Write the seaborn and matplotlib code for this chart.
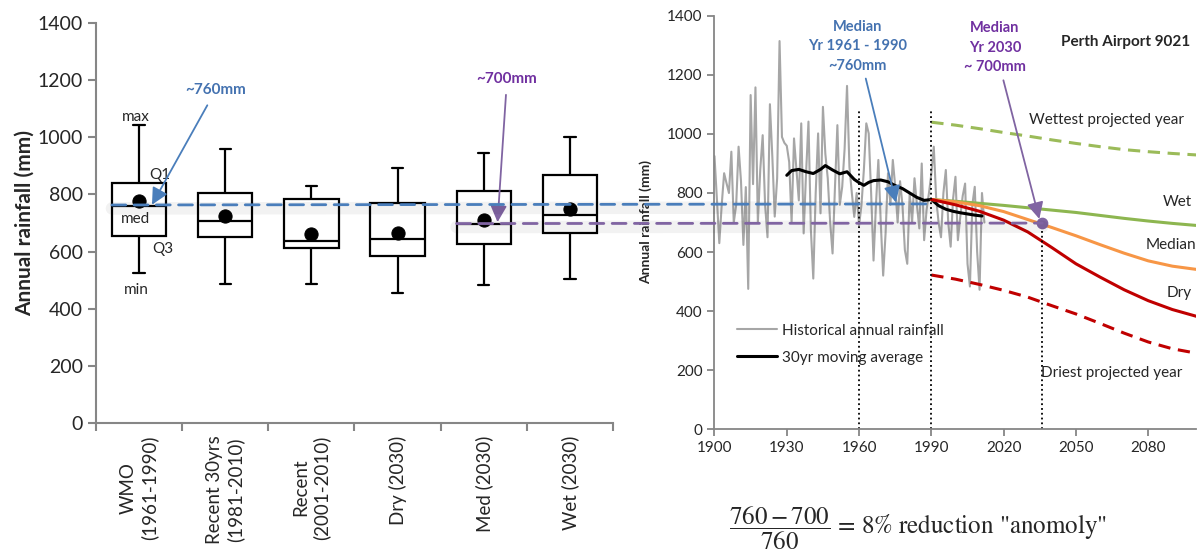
import numpy as np
import pandas as pd
import matplotlib.pyplot as plt
import seaborn as sns
from matplotlib.patches import ConnectionPatch

# ---- left panel: box plot summaries (mm) ----
periods = ["WMO\n(1961-1990)", "Recent 30yrs\n(1981-2010)", "Recent\n(2001-2010)",
           "Dry (2030)", "Med (2030)", "Wet (2030)"]
box_min = [525, 485, 485, 456, 482, 505]
box_low = [655, 650, 611, 583, 625, 664]
box_med = [760, 707, 638, 643, 697, 728]
box_high = [840, 806, 783, 769, 813, 868]
box_max = [1043, 959, 829, 891, 946, 1002]
box_mean = [778, 725, 660, 664, 711, 749]

# ---- right panel: Perth Airport 9021 ----
hist_years = list(range(1900, 2013))
hist_rain = [925, 780, 630, 760, 867, 833, 800, 940, 700, 760,
             957, 840, 624, 820, 475, 1132, 830, 1158, 700, 880,
             996, 760, 650, 1101, 924, 720, 850, 1315, 990, 970,
             960, 905, 700, 985, 880, 775, 1036, 663, 867, 1042,
             675, 510, 800, 1002, 731, 1092, 933, 850, 700, 595,
             820, 1030, 760, 821, 950, 1163, 888, 800, 719, 800,
             690, 760, 880, 1036, 1002, 800, 571, 760, 912, 700,
             520, 663, 867, 760, 912, 822, 700, 840, 760, 607,
             560, 800, 700, 850, 760, 680, 900, 640, 742, 800,
             866, 957, 780, 700, 650, 800, 878, 700, 618, 780,
             855, 640, 720, 790, 832, 560, 483, 760, 821, 600,
             472, 800, 700]

mov_years = [1930, 1932, 1935, 1938, 1941, 1944, 1946, 1949, 1952, 1955,
             1958, 1960, 1962, 1964, 1966, 1969, 1972, 1975, 1978, 1981,
             1984, 1987, 1990, 1993, 1996, 1999, 2002, 2005, 2008, 2011]
mov_avg = [860, 876, 880, 872, 866, 880, 893, 878, 865, 872,
           846, 835, 826, 836, 842, 844, 838, 825, 815, 800,
           785, 775, 778, 757, 745, 738, 733, 729, 725, 722]

proj_years = [1990, 2000, 2010, 2020, 2030, 2040, 2050, 2060, 2070, 2080, 2090, 2100]
wettest = [1040, 1030, 1018, 1005, 993, 980, 968, 957, 947, 940, 934, 929]
wet = [778, 772, 765, 758, 750, 742, 734, 724, 714, 705, 697, 690]
median = [778, 770, 757, 737, 710, 683, 655, 625, 596, 570, 552, 541]
dry = [778, 760, 738, 708, 668, 615, 560, 515, 472, 435, 405, 382]
driest = [522, 508, 490, 470, 447, 418, 390, 358, 325, 295, 272, 257]

med_base = 763
med_2030 = 698
year_2030 = 2036

BLUE = "#4A7EBB"
BLUE_TXT = "#4472B0"
PURPLE = "#8064A2"
PURPLE_TXT = "#7030A0"
AXGREY = "#868686"

sns.set_theme(style="ticks")
plt.rcParams["font.family"] = ["Lato", "DejaVu Sans"]
plt.rcParams["mathtext.fontset"] = "stix"

fig = plt.figure(figsize=(11.98, 5.53), dpi=100)
ax1 = fig.add_axes([0.0801, 0.2351, 0.4316, 0.7233])
ax2 = fig.add_axes([0.5964, 0.2242, 0.4023, 0.7469])

# box plot from five-number summaries
long = pd.DataFrame({
    "period": np.repeat(periods, 5),
    "rain": np.column_stack([box_min, box_low, box_med, box_high, box_max]).ravel(),
})
box_kw = dict(data=long, x="period", y="rain", order=periods, whis=(0, 100),
              width=0.63, color="white", linecolor="black", linewidth=1.6,
              fliersize=0, ax=ax1)
try:
    sns.boxplot(**box_kw, capwidths=0.13)
except TypeError:
    sns.boxplot(**box_kw)
sns.scatterplot(x=np.arange(len(periods)), y=box_mean, color="black", s=90,
                edgecolor="black", zorder=5, legend=False, ax=ax1)

ax1.set_xlim(-0.5, 5.5)
ax1.set_ylim(0, 1400)
ax1.set_yticks(range(0, 1401, 200))
ax1.set_xticks(np.arange(-0.5, 6, 1))
ax1.set_xticklabels([])
ax1.set_xticks(np.arange(len(periods)), minor=True)
ax1.set_xticklabels(periods, minor=True, rotation=90, fontsize=13.5,
                    ha="center", va="top", multialignment="center")
ax1.tick_params(axis="x", which="minor", length=0, pad=9)
ax1.tick_params(axis="x", which="major", length=6, width=1.5, color=AXGREY)
ax1.tick_params(axis="y", labelsize=14, length=6, width=1.5, color=AXGREY)
ax1.set_xlabel("")
ax1.set_ylabel("Annual rainfall (mm)", fontsize=15, fontweight="bold", labelpad=2)
for s in ["top", "right"]:
    ax1.spines[s].set_visible(False)
for s in ["left", "bottom"]:
    ax1.spines[s].set_color(AXGREY)
    ax1.spines[s].set_linewidth(1.5)

for txt, x, y in [("max", -0.04, 1071), ("Q1", 0.24, 868), ("med", -0.04, 714),
                  ("Q3", 0.27, 609), ("min", -0.03, 465)]:
    ax1.text(x, y, txt, fontsize=11, ha="center", va="center")

ax1.annotate("~760mm", xy=(0.15, 764), xytext=(0.89, 1165), color=BLUE_TXT,
             fontsize=11, fontweight="bold", ha="center", va="center",
             arrowprops=dict(arrowstyle="-|>", color=BLUE, lw=1.3,
                             mutation_scale=25, shrinkA=4, shrinkB=0))
ax1.annotate("~700mm", xy=(4.16, 703), xytext=(4.27, 1204), color=PURPLE_TXT,
             fontsize=11, fontweight="bold", ha="center", va="center",
             arrowprops=dict(arrowstyle="-|>", color=PURPLE, lw=1.3,
                             mutation_scale=25, shrinkA=4, shrinkB=0))

# right panel lines
sns.lineplot(x=hist_years, y=hist_rain, color="#A6A6A6", lw=1.5,
             label="Historical annual rainfall", ax=ax2)
sns.lineplot(x=mov_years, y=mov_avg, color="black", lw=2.2,
             label="30yr moving average", ax=ax2)
sns.lineplot(x=proj_years, y=wettest, color="#9BBB59", lw=2.2,
             linestyle=(0, (4, 2.5)), legend=False, ax=ax2)
sns.lineplot(x=proj_years, y=wet, color="#8DB650", lw=2.2, legend=False, ax=ax2)
sns.lineplot(x=proj_years, y=median, color="#F79646", lw=2.2, legend=False, ax=ax2)
sns.lineplot(x=proj_years, y=dry, color="#C00000", lw=2.2, legend=False, ax=ax2)
sns.lineplot(x=proj_years, y=driest, color="#C00000", lw=2.2,
             linestyle=(0, (4, 2.5)), legend=False, ax=ax2)

ax2.vlines([1960, 1990], 0, [1085, 1080], colors="black", linestyles=":", lw=1.3)
ax2.vlines([year_2030], 0, med_2030, colors="black", linestyles=":", lw=1.3)
ax2.scatter([year_2030], [med_2030], color=PURPLE, s=55, zorder=6)

ax2.set_xlim(1900, 2100)
ax2.set_ylim(0, 1400)
ax2.set_xticks(range(1900, 2081, 30))
ax2.set_yticks(range(0, 1401, 200))
ax2.tick_params(labelsize=11, length=5, width=1.3, color=AXGREY)
ax2.set_xlabel("")
ax2.set_ylabel("Annual rainfall (mm)", fontsize=10, fontweight="bold", labelpad=11)
for s in ["top", "right"]:
    ax2.spines[s].set_visible(False)
for s in ["left", "bottom"]:
    ax2.spines[s].set_color(AXGREY)
    ax2.spines[s].set_linewidth(1.3)

ax2.legend(loc="upper left", bbox_to_anchor=(0.035, 0.27), frameon=False,
           fontsize=11, handlelength=2.6, handletextpad=0.3, labelspacing=0.85,
           borderaxespad=0)

ax2.annotate("Median\nYr 1961 - 1990\n~760mm", xy=(1975.3, 768), xytext=(1959.5, 1298),
             color=BLUE_TXT, fontsize=10.5, fontweight="bold", ha="center", va="center",
             linespacing=1.5,
             arrowprops=dict(arrowstyle="-|>", color=BLUE, lw=1.3,
                             mutation_scale=25, shrinkA=2, shrinkB=0))
ax2.annotate("Median\nYr 2030\n~ 700mm", xy=(2034.8, 712), xytext=(2016.4, 1292),
             color=PURPLE_TXT, fontsize=10.5, fontweight="bold", ha="center", va="center",
             linespacing=1.5,
             arrowprops=dict(arrowstyle="-|>", color=PURPLE, lw=1.3,
                             mutation_scale=25, shrinkA=2, shrinkB=0))
ax2.text(2097.5, 1312, "Perth Airport 9021", fontsize=11, fontweight="bold",
         ha="right", va="center")
ax2.text(2062.5, 1047, "Wettest projected year", fontsize=11, ha="center", va="center")
ax2.text(2098, 770, "Wet", fontsize=11, ha="right", va="center")
ax2.text(2100, 624, "Median", fontsize=11, ha="right", va="center")
ax2.text(2098, 461, "Dry", fontsize=11, ha="right", va="center")
ax2.text(2065, 190, "Driest projected year", fontsize=11, ha="center", va="center")

# dashed reference lines joining both panels, with a soft shadow
for x0, yv, x1, col in [(-0.315, med_base, 1990, BLUE), (3.685, med_2030, year_2030, PURPLE)]:
    shadow = ConnectionPatch(xyA=(x0, yv - 12), coordsA=ax1.transData,
                             xyB=(x1, yv - 12), coordsB=ax2.transData,
                             color="black", alpha=0.05, lw=9, zorder=3)
    fig.add_artist(shadow)
    line = ConnectionPatch(xyA=(x0, yv), coordsA=ax1.transData,
                           xyB=(x1, yv), coordsB=ax2.transData,
                           color=col, lw=2, linestyle=(0, (5, 3)), zorder=4)
    fig.add_artist(line)

fig.text(0.6085, 0.045, r'$\dfrac{760-700}{760}$' + ' = 8% reduction "anomoly"',
         fontsize=18, family=["STIXGeneral", "DejaVu Serif"], ha="left", va="center")

fig.savefig("out.png", dpi=100)
